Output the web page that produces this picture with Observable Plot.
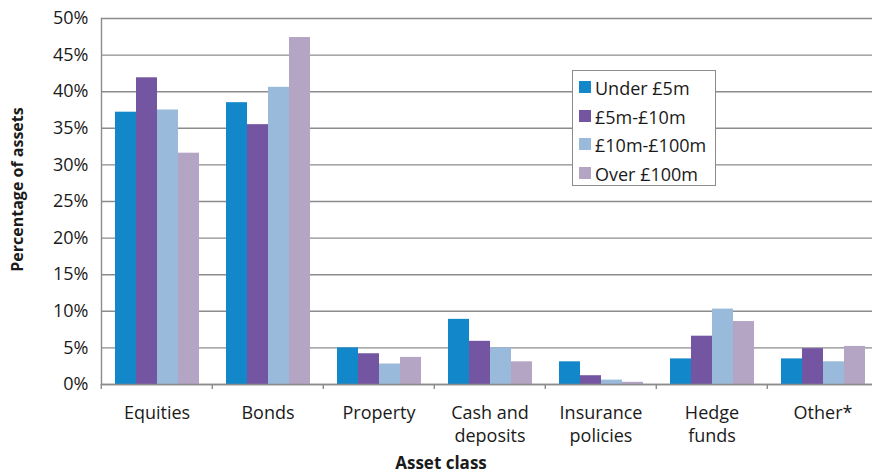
<!DOCTYPE html>
<html>
<head>
<meta charset="utf-8">
<script src="https://cdn.jsdelivr.net/npm/d3@7"></script>
<script src="https://cdn.jsdelivr.net/npm/@observablehq/plot@0.6"></script>
<style>
html, body { margin: 0; padding: 0; background: #fff; overflow: hidden; }
#wrap { position: relative; width: 872px; height: 474px; overflow: hidden; font-family: "Open Sans", sans-serif; color: #1a1a1a; }
#wrap svg [aria-label="y-axis label"] text { font-weight: bold; font-size: 16px; }
#wrap svg [aria-label="fx-axis label"] text { font-weight: bold; font-size: 17px; }
#legend { position: absolute; left: 572px; top: 70px; width: 142px; height: 114px; border: 1px solid #8c8c8c; background: #fff; box-sizing: content-box; padding: 0; }
#legend .row { position: absolute; left: 6px; height: 24px; display: flex; align-items: center; font-size: 18px; line-height: 24px; white-space: nowrap; }
#legend .sw { width: 12px; height: 12px; margin-right: 4px; margin-top: -2px; }
</style>
</head>
<body>
<div id="wrap"></div>
<script>
// ---- Data ----
const categories = ["Equities", "Bonds", "Property", "Cash and deposits", "Insurance policies", "Hedge funds", "Other*"];
const categoryLabels = ["Equities", "Bonds", "Property", "Cash and\ndeposits", "Insurance\npolicies", "Hedge\nfunds", "Other*"];
const series = ["Under £5m", "£5m-£10m", "£10m-£100m", "Over £100m"];
const under5m   = [37.2, 38.5, 5.0, 8.9, 3.1, 3.5, 3.5];
const m5to10m   = [41.9, 35.5, 4.2, 5.9, 1.2, 6.6, 4.9];
const m10to100m = [37.5, 40.6, 2.8, 5.0, 0.6, 10.3, 3.1];
const over100m  = [31.6, 47.4, 3.7, 3.1, 0.3, 8.6, 5.2];
const yTicks = [0, 5, 10, 15, 20, 25, 30, 35, 40, 45, 50];
const colors = ["#1287ca", "#7455a2", "#99badA", "#b4a5c4"];

const seriesValues = [under5m, m5to10m, m10to100m, over100m];
const data = categories.flatMap((c, i) =>
  series.map((s, j) => ({ category: c, series: s, value: seriesValues[j][i] }))
);
const labelOf = new Map(categories.map((c, i) => [c, categoryLabels[i]]));

const W = 880, H = 474, ML = 99, MR = 1, MT = 18, MB = 90;
const halfBand = (W - ML - MR) / categories.length / 2;
const gridColor = "#8c8c8c";

const chart = Plot.plot({
  width: W, height: H,
  marginLeft: ML, marginRight: MR, marginTop: MT, marginBottom: MB,
  style: { fontFamily: "Open Sans, sans-serif", fontSize: "18px", color: "#1a1a1a", overflow: "visible", maxWidth: "none" },
  fx: { domain: categories, padding: 0 },
  x: { domain: series, paddingInner: 0, paddingOuter: 0.64, axis: null },
  y: { domain: [0, 50] },
  color: { domain: series, range: colors },
  marks: [
    Plot.gridY(yTicks, { stroke: gridColor, strokeOpacity: 1, strokeWidth: 1.4 }),
    Plot.barY(data, { fx: "category", x: "series", y: "value", fill: "series" }),
    Plot.ruleY([0], { stroke: gridColor, strokeWidth: 1.4 }),
    Plot.frame({ anchor: "left", stroke: gridColor, strokeWidth: 1.4, facetAnchor: "left" }),
    Plot.axisY({
      ticks: yTicks, tickSize: 0, tickPadding: 13, tickFormat: d => d + "%",
      label: "Percentage of assets", labelAnchor: "center", labelArrow: "none", labelOffset: 90
    }),
    Plot.axisFx({
      anchor: "bottom", tickSize: 0, tickPadding: 18, lineHeight: 1.27,
      tickFormat: d => labelOf.get(d),
      label: "Asset class", labelAnchor: "center", labelArrow: "none", labelOffset: 84
    }),
    Plot.axisFx({ anchor: "bottom", tickSize: 5, tickFormat: () => "", stroke: gridColor, strokeWidth: 1.4, dx: -halfBand, label: null })
  ]
});

const wrap = document.getElementById("wrap");
wrap.appendChild(chart);

// The reference centres the axis titles slightly off the frame centre.
function shift(sel, dx, dy) {
  const g = chart.querySelector(sel);
  if (g) g.setAttribute("transform", `translate(${dx},${dy}) ${g.getAttribute("transform") || ""}`);
}
shift('[aria-label="fx-axis label"]', -49, 0);
shift('[aria-label="y-axis label"]', 0, -12);

// ---- Legend ----
const color = chart.scale("color");
const legend = document.createElement("div");
legend.id = "legend";
series.forEach((s, i) => {
  const row = document.createElement("div");
  row.className = "row";
  row.style.top = (5 + i * 28.5) + "px";
  const sw = document.createElement("span");
  sw.className = "sw";
  sw.style.background = color.apply(s);
  const tx = document.createElement("span");
  tx.textContent = s;
  row.appendChild(sw);
  row.appendChild(tx);
  legend.appendChild(row);
});
wrap.appendChild(legend);
</script>
</body>
</html>
